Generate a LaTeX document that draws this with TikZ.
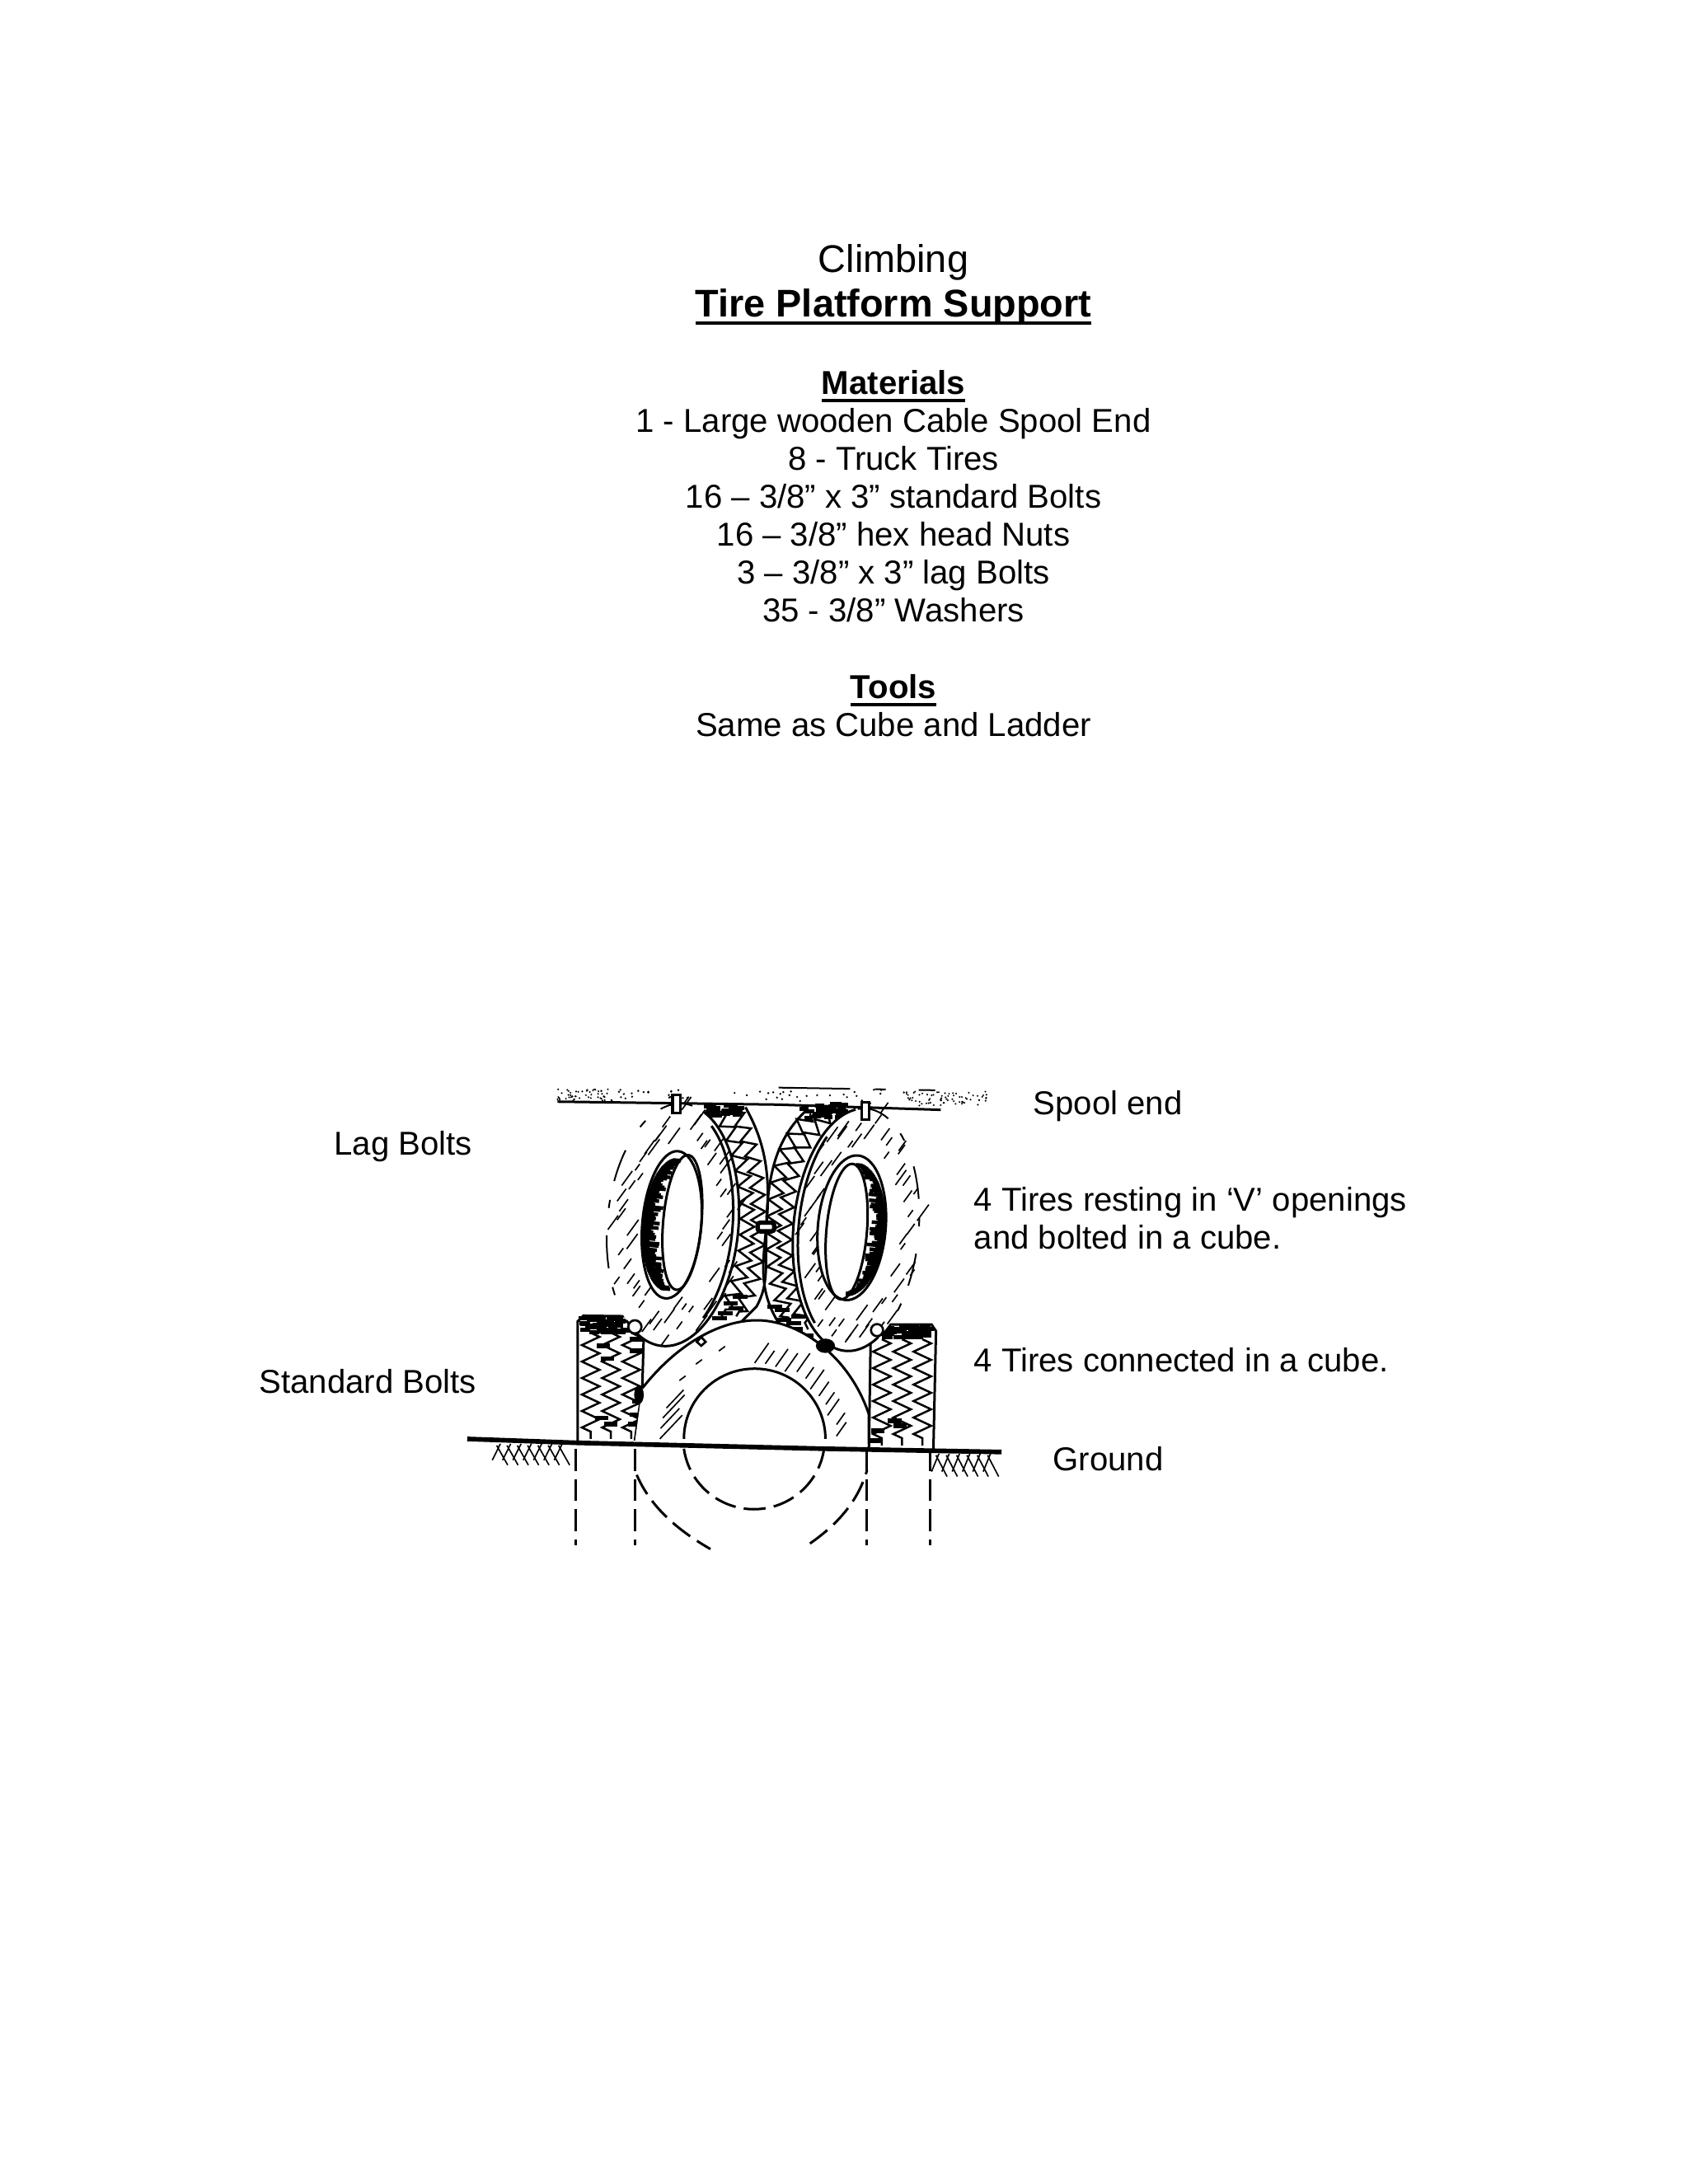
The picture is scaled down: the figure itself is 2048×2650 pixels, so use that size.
\documentclass[tikz,border=0pt]{standalone}
\usepackage{fontspec}
\setmainfont{Liberation Sans}
\usetikzlibrary{decorations.pathmorphing}
\newcommand\ulbar[1]{\sbox0{#1}\rlap{\rule[-3pt]{\wd0}{1.1pt}}\usebox0}
\newcommand\tirehatch[5]{% a, b, from, to, step
  \foreach \t in {#3,#5,...,#4} {
    \pgfmathsetmacro\rr{0.68+0.32*rnd}
    \pgfmathsetmacro\ll{22+38*rnd}
    \draw[hatch] ({#1*\rr*cos(\t)},{#2*\rr*sin(\t)})--++(-62:\ll);
  }
}
\newcommand\bandticks[8]{% cx1, a1, cx2, a2, b, from, next, to
  \foreach \t in {#6,#7,...,#8} {
    \pgfmathsetmacro\ff{0.35+0.6*rnd}
    \draw[tick] ({#1+#2*cos(\t)},{#5*sin(\t)})--({#1+#2*cos(\t)+\ff*(#3+#4*cos(\t)-#1-#2*cos(\t))},{#5*sin(\t)});
  }
}
\begin{document}
\begin{tikzpicture}[
  x=0.010542cm, y=-0.010542cm,
  ctr/.style={anchor=base, inner sep=0pt, font=\fontsize{12bp}{14bp}\selectfont},
  lbl/.style={anchor=base west, inner sep=0pt, font=\fontsize{12bp}{14bp}\selectfont},
  outline/.style={line width=0.9pt},
  hatch/.style={line width=0.5pt},
  tick/.style={line width=1.3pt},
  zig/.style={line width=0.75pt, decorate, decoration={zigzag, segment length=6pt, amplitude=3.2pt}},
  zigb/.style={line width=0.75pt, decorate, decoration={zigzag, segment length=6pt, amplitude=2.6pt}},
  broken/.style={line width=0.6pt, dash pattern=on 12pt off 7pt on 3pt off 10pt},
  hidden/.style={line width=0.9pt, dash pattern=on 8pt off 3pt}
]
  \useasboundingbox (0,0) rectangle (2048,2650);
  \fill[white] (0,0) rectangle (2048,2650);

  % heading and lists
  \node[ctr, font=\fontsize{14bp}{16bp}\selectfont] (title) at (1084,330){Climbing};
  \node[ctr, font=\fontsize{14bp}{16bp}\selectfont\bfseries] (subtitle) at (1084,384){\ulbar{Tire Platform Support}};
  \node[ctr, font=\fontsize{12bp}{14bp}\selectfont\bfseries] (materials) at (1084,478){\ulbar{Materials}};
  \foreach \y/\x/\txt in {524/m1/{1 - Large wooden Cable Spool End},570/m2/{8 - Truck Tires},
    616/m3/{16 – 3/8” x 3” standard Bolts},662/m4/{16 – 3/8” hex head Nuts},
    708/m5/{3 – 3/8” x 3” lag Bolts},754/m6/{35 - 3/8” Washers}} {
    \node[ctr] (\x) at (1084,\y){\txt};
  }
  \node[ctr, font=\fontsize{12bp}{14bp}\selectfont\bfseries] (tools) at (1084,847){\ulbar{Tools}};
  \node[ctr] (same) at (1084,893){Same as Cube and Ladder};

  % labels round the sketch
  \node[lbl] (spool) at (1253,1352){Spool end};
  \node[lbl] (lag) at (405,1401){Lag Bolts};
  \node[lbl] (resting) at (1181,1469){4 Tires resting in ‘V’ openings};
  \node[lbl] (bolted) at (1181,1515){and bolted in a cube.};
  \node[lbl] (connected) at (1181,1664){4 Tires connected in a cube.};
  \node[lbl] (standard) at (314,1690){Standard Bolts};
  \node[lbl] (ground) at (1277,1784){Ground};

  % sketch, in its own units
  \begin{scope}[shift={(540,1280)}, x=0.004709cm, y=-0.004175cm]
    \pgfmathsetseed{11}
    % spool end
    \foreach \i in {1,...,55} {
      \pgfmathsetmacro\px{305+1000*rnd}
      \pgfmathsetmacro\py{105+38*rnd}
      \fill (\px,\py) circle (0.4pt);
    }
    \foreach \i in {1,...,40} {
      \pgfmathsetmacro\px{305+150*rnd}
      \pgfmathsetmacro\py{105+35*rnd}
      \fill (\px,\py) circle (0.35pt);
    }
    \foreach \i in {1,...,70} {
      \pgfmathsetmacro\px{1470-220*rnd}
      \pgfmathsetmacro\py{112+45*rnd}
      \fill (\px,\py) circle (0.35pt);
    }
    \draw[line width=0.6pt, dash pattern=on 26pt off 9pt on 4pt off 12pt] (905,100)--(1330,108);
    \draw[line width=0.9pt] (305,143)--(900,152)--(1345,168);

    % back treads
    \draw[outline] (815,160) .. controls (865,260) and (885,360) .. (872,520)
      .. controls (868,640) and (880,700) .. (845,770) -- (805,815);
    \draw[outline] (985,165) .. controls (910,240) and (875,340) .. (872,520)
      .. controls (862,640) and (850,720) .. (905,820) -- (1010,890);
    \draw[zigb] (745,175) .. controls (790,260) and (815,340) .. (820,500) .. controls (820,620) and (805,700) .. (750,800);
    \draw[zigb] (790,175) .. controls (825,260) and (850,340) .. (850,500) .. controls (850,620) and (845,700) .. (790,800);
    \draw[zigb] (1040,185) .. controls (960,270) and (935,340) .. (925,500) .. controls (915,620) and (925,700) .. (985,840);
    \draw[zigb] (990,180) .. controls (930,260) and (900,340) .. (893,500) .. controls (885,620) and (890,700) .. (940,825);
    \foreach \i in {1,...,26} {
      \pgfmathsetmacro\px{715+85*rnd}
      \pgfmathsetmacro\py{155+30*rnd}
      \draw[line width=1.5pt] (\px-12,\py)--(\px+12,\py);
    }
    \foreach \i in {1,...,34} {
      \pgfmathsetmacro\px{970+120*rnd}
      \pgfmathsetmacro\py{165+45*rnd-(\px-970)*0.2}
      \draw[line width=1.5pt] (\px-12,\py)--(\px+12,\py);
    }
    \foreach \x/\y in {760/790,790/775,745/805,775/760,800/740,920/810,950/840,980/860,895/770,915/780,945/820,960/800} {
      \draw[line width=1.6pt] (\x-20,\y)--(\x+20,\y);
    }

    % lower treads
    \draw[outline] (360,1180)--(360,815)--(375,798)--(525,800)--(540,820)--(535,1020)--(515,1180);
    \draw[outline] (1150,1200)--(1155,850)--(1170,825)--(1320,825)--(1332,845)--(1325,1205);
    \foreach \x in {395,450,505} {
      \draw[zig] (\x,850)--(\x,1175);
    }
    \foreach \x in {1185,1240,1295} {
      \draw[zig] (\x,870)--(\x,1195);
    }
    \foreach \i in {1,...,45} {
      \pgfmathsetmacro\px{375+150*rnd}
      \pgfmathsetmacro\py{805+45*rnd}
      \draw[line width=1.5pt] (\px-14,\py)--(\px+14,\py);
    }
    \foreach \i in {1,...,45} {
      \pgfmathsetmacro\px{1180+135*rnd}
      \pgfmathsetmacro\py{830+35*rnd}
      \draw[line width=1.5pt] (\px-14,\py)--(\px+14,\py);
    }
    \foreach \x/\y in {430/890,440/930,520/870,520/905,525/1060,520/1100,515/1130,425/1110,450/1130,1220/1120,1235/1135,1170/1180,1175/1150} {
      \draw[line width=1.6pt] (\x-18,\y)--(\x+18,\y);
    }

    % lower tire
    \fill[white] (535,1020) .. controls (640,870) and (760,810) .. (850,812)
      .. controls (970,815) and (1100,930) .. (1150,1100) -- (1150,1190) -- (515,1185) -- cycle;
    \draw[outline] (535,1020) .. controls (640,870) and (760,810) .. (850,812)
      .. controls (970,815) and (1100,930) .. (1150,1100) -- (1150,1190);
    \begin{scope}[shift={(840,1175)}]
      \fill[white] (0,0) ellipse [x radius=192, y radius=215];
      \draw[outline] (-192,0) arc[start angle=180, end angle=360, x radius=192, y radius=215];
      \draw[hidden] (-192,30) arc[start angle=172, end angle=8, x radius=192, y radius=215];
      \foreach \t in {90,82,...,-4} {
        \pgfmathsetmacro\ll{40+35*rnd}
        \pgfmathsetmacro\rr{1.05+0.14*rnd}
        \draw[hatch] ({192*\rr*cos(\t)},{-215*\rr*sin(\t)})--++(-58:\ll);
      }
      \foreach \t in {180,172,...,155} {
        \pgfmathsetmacro\ll{50+50*rnd}
        \draw[hatch] ({192*1.08*cos(\t)-50},{-215*1.08*sin(\t)})--++(-50:\ll);
      }
      \foreach \t in {112,128,142} {
        \draw[hatch] ({192*1.35*cos(\t)},{-215*1.35*sin(\t)})--++(-40:22);
      }
    \end{scope}
    \draw[hidden] (520,1285) .. controls (560,1390) and (640,1460) .. (720,1512);
    \draw[hidden] (990,1495) .. controls (1060,1440) and (1120,1370) .. (1145,1270);

    % ground
    \draw[line width=1.7pt] (60,1175)--(360,1187)--(1030,1205)--(1510,1215);
    \foreach \x in {150,178,...,340} {
      \draw[hatch] (\x,1190)--++(-22,50) (\x-10,1195)--++(30,60);
    }
    \foreach \x in {1340,1368,...,1500} {
      \draw[hatch] (\x,1220)--++(-20,55) (\x-8,1225)--++(30,65);
    }
    \foreach \x in {355,515,1145,1315} {
      \draw[hidden] (\x,1205)--(\x,1500);
    }

    % left upper tire
    \begin{scope}[shift={(618,520)}, rotate=-5]
      \fill[white] (0,0) ellipse [x radius=178, y radius=372];
      \draw[outline] (72:178 and -372) arc[start angle=72, end angle=-125, x radius=178, y radius=-372];
      \draw[outline] (60:162 and -360) arc[start angle=60, end angle=-50, x radius=162, y radius=-360];
      \draw[broken] (82:178 and -372) arc[start angle=82, end angle=235, x radius=178, y radius=-372];
      \tirehatch{178}{372}{-180}{170}{-170}
      \tirehatch{178}{372}{-175}{175}{-161}
      \fill[white] (-3,0) ellipse [x radius=80, y radius=226];
      \draw[outline] (25,-10) ellipse [x radius=52, y radius=207];
      \draw[outline] (-3,0) ellipse [x radius=80, y radius=226];
      \bandticks{-3}{80}{25}{52}{200}{100}{102}{262}
    \end{scope}

    % right upper tire
    \begin{scope}[shift={(1115,535)}, rotate=-5]
      \fill[white] (0,0) ellipse [x radius=170, y radius=372];
      \draw[outline] (100:170 and -372) arc[start angle=100, end angle=300, x radius=170, y radius=-372];
      \draw[outline] (130:156 and -360) arc[start angle=130, end angle=235, x radius=156, y radius=-360];
      \draw[broken] (98:170 and -372) arc[start angle=98, end angle=-60, x radius=170, y radius=-372];
      \tirehatch{170}{372}{-180}{170}{-170}
      \tirehatch{170}{372}{-175}{175}{-161}
      \fill[white] (-12,-5) ellipse [x radius=92, y radius=222];
      \draw[outline] (-25,8) ellipse [x radius=55, y radius=208];
      \draw[outline] (-12,-5) ellipse [x radius=92, y radius=222];
      \bandticks{-12}{92}{-25}{55}{200}{-82}{-80}{82}
    \end{scope}

    % bolts
    \draw[line width=1pt, fill=white] (617,122) rectangle (638,178);
    \draw[line width=1pt, fill=white] (1130,145) rectangle (1150,198);
    \draw[line width=1.6pt, fill=white, rounded corners=1pt] (848,513) rectangle (893,540);
    \draw[line width=0.8pt, fill=white] (683,878)--(695,863)--(707,878)--(695,890)--cycle;
    \fill (1032,890) ellipse [x radius=26, y radius=22];
    \fill (526,1040) ellipse [x radius=13, y radius=28];
    \draw[line width=0.8pt, fill=white] (515,832) circle (2.4pt);
    \draw[line width=0.8pt, fill=white] (1172,842) circle (2.2pt);
  \end{scope}
\end{tikzpicture}
\end{document}
